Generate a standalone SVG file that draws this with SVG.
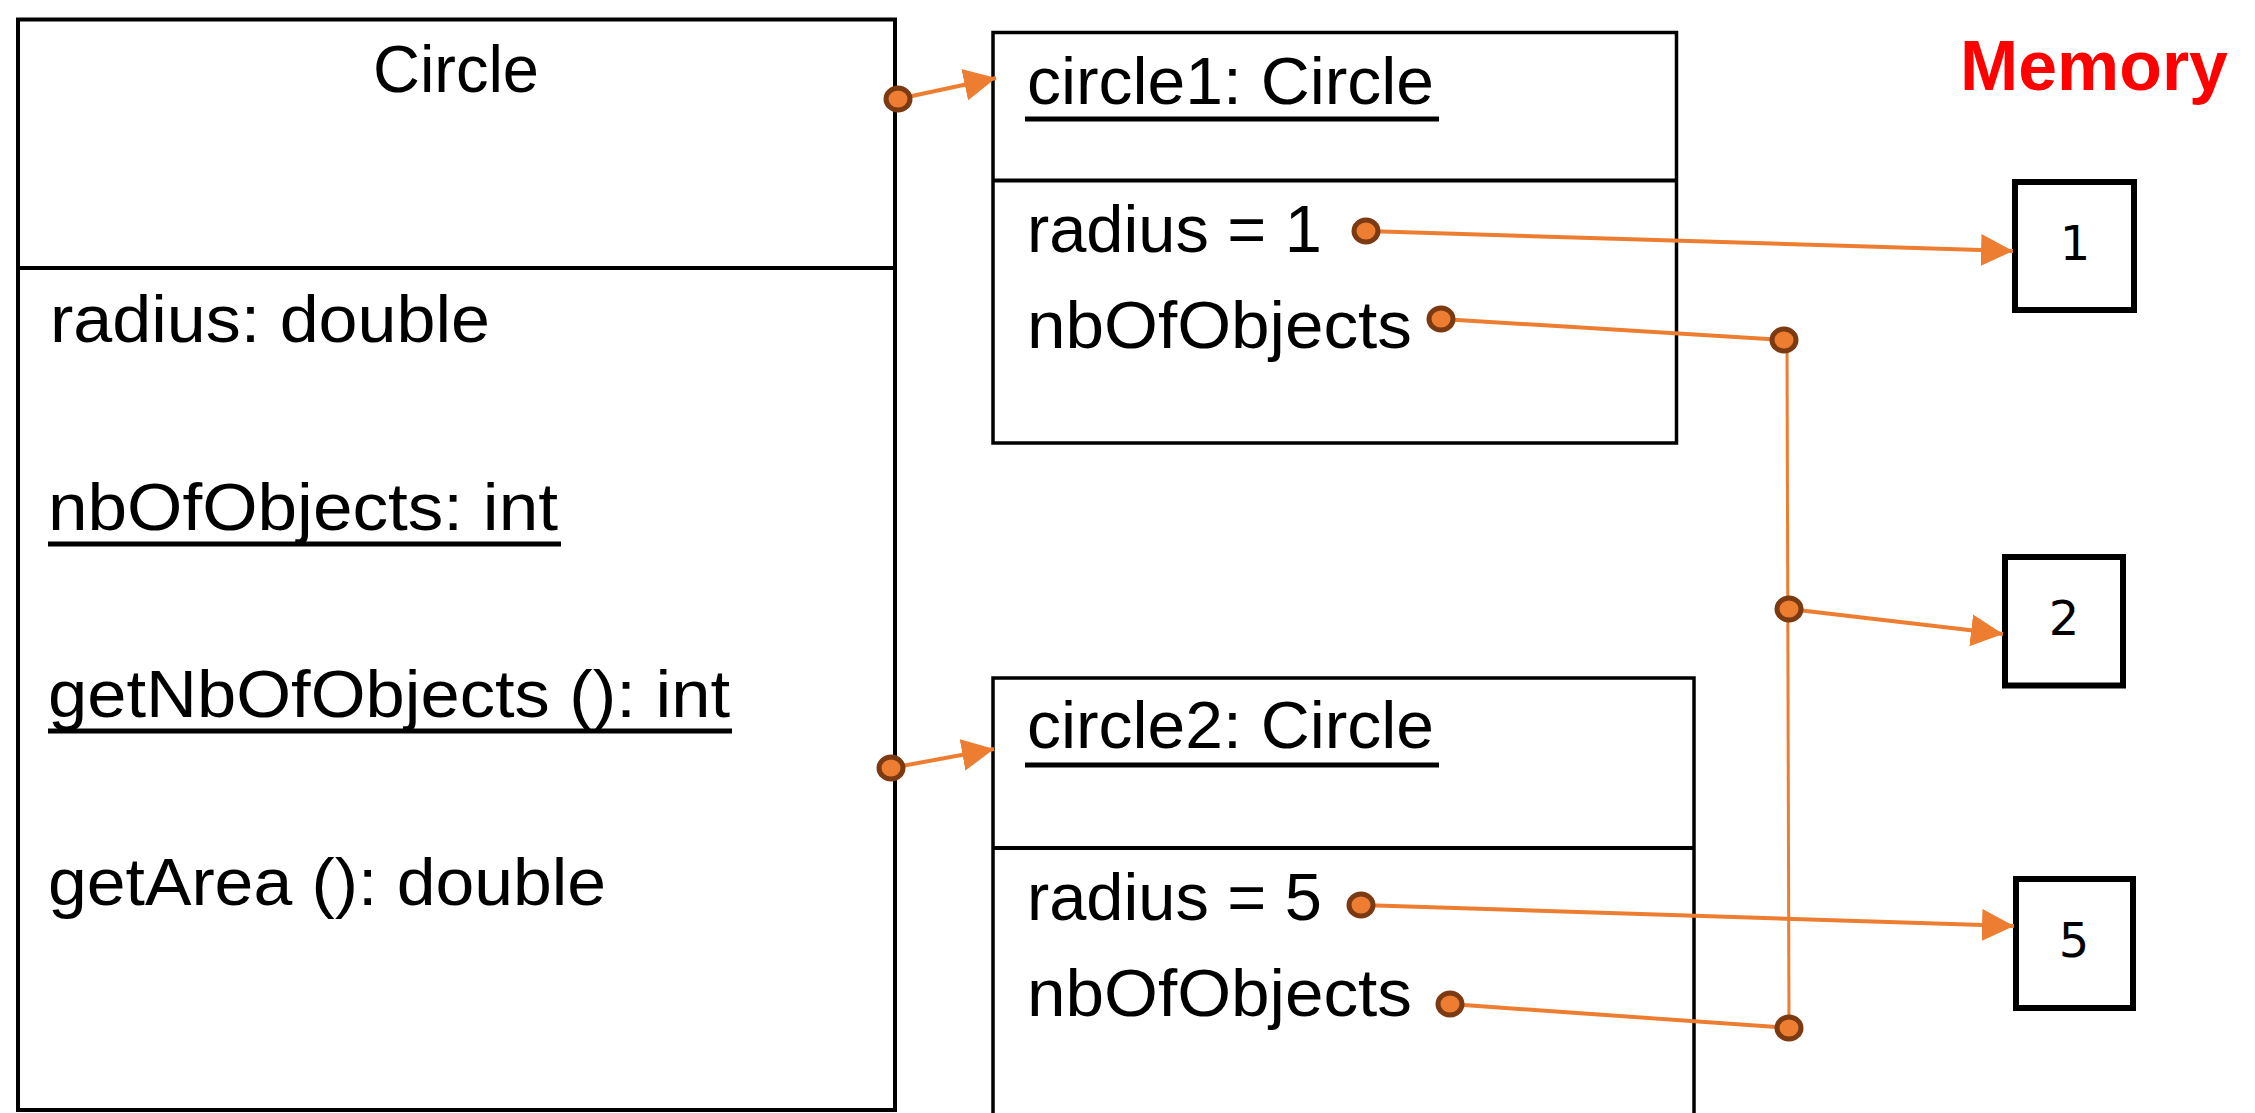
<svg xmlns="http://www.w3.org/2000/svg" width="2255" height="1113" viewBox="0 0 2255 1113">
  <style>
    .box { fill: #ffffff; stroke: #000000; stroke-width: 3.5; }
    .cls { fill: #ffffff; stroke: #000000; stroke-width: 4; }
    .mem { fill: #ffffff; stroke: #000000; stroke-width: 6; }
    .sep { stroke: #000000; stroke-width: 4; }
    .uline { stroke: #000000; stroke-width: 5; }
    .txt { font-family: "Liberation Sans", Arial, sans-serif; font-size: 66px; fill: #000000; }
    .num { font-family: "DejaVu Sans", "Liberation Sans", sans-serif; font-size: 48px; fill: #000000; text-anchor: middle; }
    .title { font-family: "Liberation Sans", Arial, sans-serif; font-size: 70px; font-weight: bold; fill: #ff0000; }
    .link { stroke: #ed7d31; stroke-width: 4; fill: none; }
    .bus { stroke: #ed7d31; stroke-width: 3; fill: none; }
    .dot { fill: #ed7d31; stroke: #7b3a12; stroke-width: 5; }
  </style>
  <defs>
    <marker id="head" markerUnits="userSpaceOnUse" markerWidth="32" markerHeight="32" viewBox="0 0 32 32" refX="32" refY="16" orient="auto">
      <path d="M0,0 L32,16 L0,32 z" fill="#ed7d31"/>
    </marker>
  </defs>

  <rect width="2255" height="1113" fill="#ffffff"/>

  <!-- class Circle -->
  <g id="class-circle">
    <rect class="cls" x="18" y="19.5" width="877" height="1090.5"/>
    <line class="sep" x1="18" y1="268" x2="895" y2="268"/>
    <text class="txt" x="373" y="92" textLength="166" lengthAdjust="spacingAndGlyphs">Circle</text>
    <text class="txt" x="50" y="342" textLength="440" lengthAdjust="spacingAndGlyphs">radius: double</text>
    <text class="txt" x="48" y="530" textLength="510" lengthAdjust="spacingAndGlyphs">nbOfObjects: int</text>
    <line class="uline" x1="48" y1="544" x2="561" y2="544"/>
    <text class="txt" x="48" y="717" textLength="682" lengthAdjust="spacingAndGlyphs">getNbOfObjects (): int</text>
    <line class="uline" x1="48" y1="731" x2="732" y2="731"/>
    <text class="txt" x="48" y="905" textLength="558" lengthAdjust="spacingAndGlyphs">getArea (): double</text>
  </g>

  <!-- object circle1 -->
  <g id="obj-circle1">
    <rect class="box" x="993" y="32.5" width="683.5" height="410.5"/>
    <line class="sep" x1="993" y1="180.5" x2="1676.5" y2="180.5"/>
    <text class="txt" x="1027" y="104" textLength="407" lengthAdjust="spacingAndGlyphs">circle1: Circle</text>
    <line class="uline" x1="1025" y1="119" x2="1439" y2="119"/>
    <text class="txt" x="1027" y="252" textLength="295" lengthAdjust="spacingAndGlyphs">radius = 1</text>
    <text class="txt" x="1027" y="348" textLength="385" lengthAdjust="spacingAndGlyphs">nbOfObjects</text>
  </g>

  <!-- object circle2 (runs past the lower edge) -->
  <g id="obj-circle2">
    <rect class="box" x="993" y="678" width="701" height="460"/>
    <line class="sep" x1="993" y1="848" x2="1694" y2="848"/>
    <text class="txt" x="1027" y="748" textLength="407" lengthAdjust="spacingAndGlyphs">circle2: Circle</text>
    <line class="uline" x1="1025" y1="765" x2="1439" y2="765"/>
    <text class="txt" x="1027" y="920" textLength="295" lengthAdjust="spacingAndGlyphs">radius = 5</text>
    <text class="txt" x="1027" y="1016" textLength="385" lengthAdjust="spacingAndGlyphs">nbOfObjects</text>
  </g>

  <!-- memory area -->
  <g id="memory-label">
    <text class="title" x="1960" y="90" textLength="268" lengthAdjust="spacingAndGlyphs">Memory</text>
  </g>
  <g id="mem-1">
    <rect class="mem" x="2015" y="182" width="119" height="128"/>
    <text class="num" x="2075" y="260">1</text>
  </g>
  <g id="mem-2">
    <rect class="mem" x="2005" y="557" width="118" height="128.5"/>
    <text class="num" x="2064" y="635">2</text>
  </g>
  <g id="mem-5">
    <rect class="mem" x="2016" y="879" width="117" height="129"/>
    <text class="num" x="2074" y="957">5</text>
  </g>

  <!-- connectors -->
  <g id="connectors">
    <line class="link" x1="898" y1="99" x2="996" y2="78" marker-end="url(#head)"/>
    <line class="link" x1="891" y1="768" x2="994" y2="749" marker-end="url(#head)"/>
    <line class="link" x1="1366" y1="231" x2="2013" y2="251" marker-end="url(#head)"/>
    <line class="link" x1="1441" y1="319" x2="1784" y2="340"/>
    <line class="bus" x1="1787" y1="340" x2="1789" y2="1028"/>
    <line class="link" x1="1789" y1="609" x2="2003" y2="634" marker-end="url(#head)"/>
    <line class="link" x1="1361" y1="905" x2="2014" y2="926" marker-end="url(#head)"/>
    <line class="link" x1="1450" y1="1004" x2="1789" y2="1028"/>

    <ellipse class="dot" cx="898" cy="99" rx="12" ry="11"/>
    <ellipse class="dot" cx="891" cy="768" rx="12" ry="11"/>
    <ellipse class="dot" cx="1366" cy="231" rx="12" ry="11"/>
    <ellipse class="dot" cx="1441" cy="319" rx="12" ry="11"/>
    <ellipse class="dot" cx="1784" cy="340" rx="12" ry="11"/>
    <ellipse class="dot" cx="1789" cy="609" rx="12" ry="11"/>
    <ellipse class="dot" cx="1361" cy="905" rx="12" ry="11"/>
    <ellipse class="dot" cx="1450" cy="1004" rx="12" ry="11"/>
    <ellipse class="dot" cx="1789" cy="1028" rx="12" ry="11"/>
  </g>
</svg>
